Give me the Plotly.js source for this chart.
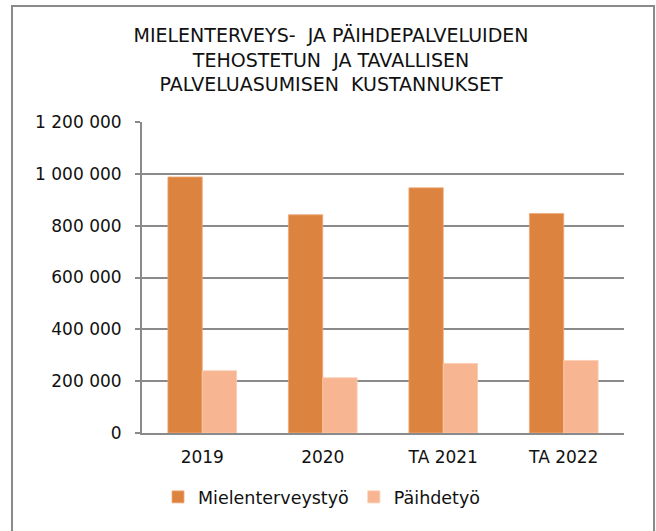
<!DOCTYPE html>
<html>
<head>
<meta charset="utf-8">
<script src="https://cdn.plot.ly/plotly-3.0.1.min.js"></script>
<style>
  html, body { margin: 0; padding: 0; background: #fff; }
  #wrap { position: relative; width: 656px; height: 531px; overflow: hidden; }
  #chart { width: 656px; height: 531px; }
  #frame { position: absolute; left: 11px; top: 5px; width: 640px; height: 560px;
           border: 2px solid #8a8a8a; pointer-events: none; }
</style>
</head>
<body>
<div id="wrap">
  <div id="chart"></div>
  <div id="frame"></div>
</div>
<script>
const categories = ["2019", "2020", "TA 2021", "TA 2022"];
const mielenterveystyo = [988000, 842000, 946000, 847000];
const paihdetyo = [240000, 213000, 268000, 280000];
const seriesNames = ["Mielenterveystyö", "Päihdetyö"];
const titleText = "MIELENTERVEYS-  JA PÄIHDEPALVELUIDEN<br>TEHOSTETUN  JA TAVALLISEN<br>PALVELUASUMISEN  KUSTANNUKSET";

const FONT = "DejaVu Sans, Liberation Sans, Arial, sans-serif";

const traces = [
  { type: "bar", name: seriesNames[0], x: categories, y: mielenterveystyo,
    marker: { color: "#DC843F", line: { color: "#EFA877", width: 0.8 } } },
  { type: "bar", name: seriesNames[1], x: categories, y: paihdetyo,
    marker: { color: "#F8B591", line: { color: "#FBCBB0", width: 0.8 } } }
];

const layout = {
  width: 656, height: 531,
  margin: { l: 142, r: 32, t: 122, b: 97.5 },
  paper_bgcolor: "#fff", plot_bgcolor: "#fff",
  separators: ", ",
  font: { family: FONT, color: "#111", size: 17 },
  title: {
    text: titleText,
    font: { family: FONT, size: 19, color: "#111" },
    x: 331 / 656, xref: "container", xanchor: "center",
    y: 1 - 42 / 531, yref: "container", yanchor: "top"
  },
  barmode: "group",
  bargap: 0.43,
  bargroupgap: 0,
  showlegend: true,
  legend: {
    orientation: "h",
    x: 322 / 656, xanchor: "center", xref: "container",
    y: 1 - 497 / 531, yanchor: "middle", yref: "container",
    font: { family: FONT, size: 17.5, color: "#111" },
    itemwidth: 30
  },
  xaxis: {
    type: "category",
    showline: true, linecolor: "#8a8a8a", linewidth: 2,
    ticks: "", showgrid: false,
    tickfont: { family: FONT, size: 17, color: "#111" },
    ticklabelstandoff: 8
  },
  yaxis: {
    range: [0, 1200000], dtick: 200000, tick0: 0,
    tickformat: ",d",
    showline: true, linecolor: "#8a8a8a", linewidth: 2,
    ticks: "outside", ticklen: 5, tickcolor: "#8a8a8a", tickwidth: 2,
    showgrid: true, gridcolor: "#8a8a8a", gridwidth: 2,
    zeroline: false,
    tickfont: { family: FONT, size: 17, color: "#111" },
    ticklabelstandoff: 10
  }
};

Plotly.newPlot("chart", traces, layout, { displayModeBar: false, staticPlot: true });
</script>
</body>
</html>
